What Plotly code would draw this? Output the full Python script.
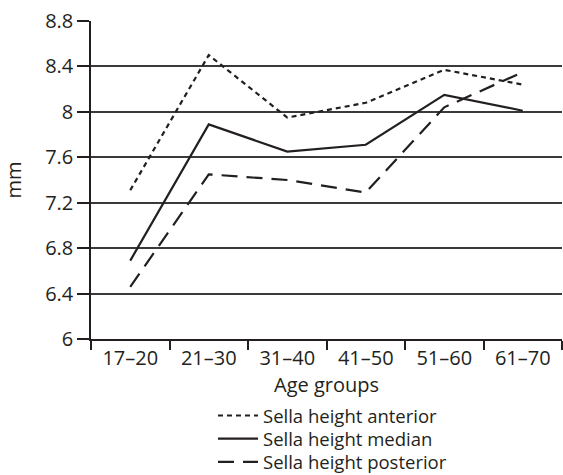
import plotly.graph_objects as go

age_groups = ["17–20", "21–30", "31–40", "41–50", "51–60", "61–70"]
anterior = [7.31, 8.50, 7.95, 8.08, 8.37, 8.24]
median = [6.69, 7.89, 7.65, 7.71, 8.15, 8.01]
posterior = [6.46, 7.45, 7.40, 7.29, 8.04, 8.35]
y_ticks = [6, 6.4, 6.8, 7.2, 7.6, 8, 8.4, 8.8]
y_tick_text = ["6", "6.4", "6.8", "7.2", "7.6", "8", "8.4", "8.8"]

FONT = "Open Sans"
INK = "#231f20"

fig = go.Figure()
fig.add_trace(go.Scatter(x=age_groups, y=anterior, mode="lines", name="Sella height anterior",
                         legend="legend",
                         line=dict(color=INK, width=2.2, dash="5px,4px")))
fig.add_trace(go.Scatter(x=age_groups, y=median, mode="lines", name="Sella height median",
                         legend="legend2",
                         line=dict(color=INK, width=2.2)))
fig.add_trace(go.Scatter(x=age_groups, y=posterior, mode="lines", name="Sella height posterior",
                         legend="legend3",
                         line=dict(color=INK, width=2.2, dash="16px,9px")))

def leg(yp):
    return dict(x=0.259, xanchor="left", y=yp, yanchor="middle",
                bgcolor="rgba(0,0,0,0)", font=dict(size=18.5, family=FONT, color=INK),
                itemwidth=40)

# Figure is drawn slightly taller than the 475px window so the bottom legend row
# can sit near the visible edge (as in the reference) without auto-margins.
fig.update_layout(
    width=563, height=495,
    margin=dict(l=91, r=1, t=21, b=156),
    paper_bgcolor="white", plot_bgcolor="white",
    font=dict(family=FONT, size=20, color=INK),
    showlegend=True,
    legend=leg(-0.242),
    legend2=leg(-0.315),
    legend3=leg(-0.388),
    xaxis=dict(
        type="category", range=[-0.5, 5.5], automargin=False,
        showline=True, linecolor=INK, linewidth=1.5,
        ticks="outside", tickson="boundaries", ticklen=9, tickwidth=1.5, tickcolor=INK,
        showgrid=False, zeroline=False,
        title=dict(text="Age groups", standoff=0, font=dict(size=20, family=FONT, color=INK)),
        tickfont=dict(size=20, family=FONT, color=INK),
    ),
    yaxis=dict(
        range=[6, 8.8], tickvals=y_ticks, ticktext=y_tick_text, automargin=False,
        showline=True, linecolor=INK, linewidth=1.5,
        ticks="outside", ticklen=12, tickwidth=1.5, tickcolor=INK,
        showgrid=True, gridcolor="#3a3a3a", gridwidth=1.5, zeroline=False,
        title=dict(text="mm", standoff=20, font=dict(size=20, family=FONT, color=INK)),
        tickfont=dict(size=20, family=FONT, color=INK),
    ),
)

fig.write_html("out.html", config={"displayModeBar": False},
               post_script="document.body.style.margin='0px';document.body.style.overflow='hidden';")
